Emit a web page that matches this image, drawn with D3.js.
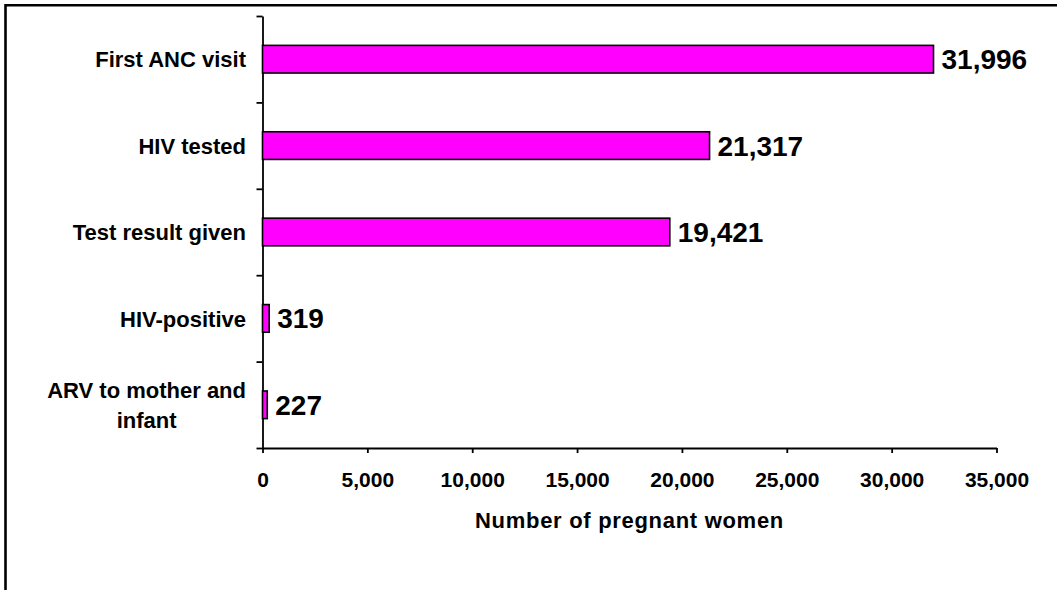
<!DOCTYPE html>
<html>
<head>
<meta charset="utf-8">
<script src="https://cdn.jsdelivr.net/npm/d3@7"></script>
<style>
  html, body { margin: 0; padding: 0; background: #fff; }
  svg { display: block; }
  text { font-family: "Liberation Sans", Arial, sans-serif; font-weight: bold; fill: #000; }
</style>
</head>
<body>
<svg id="chart" width="1062" height="590"></svg>
<script>
const categories = ["First ANC visit", "HIV tested", "Test result given", "HIV-positive", "ARV to mother and infant"];
const categoryLines = [["First ANC visit"], ["HIV tested"], ["Test result given"], ["HIV-positive"], ["ARV to mother and", "infant"]];
const values = [31996, 21317, 19421, 319, 227];
const xTicks = [0, 5000, 10000, 15000, 20000, 25000, 30000, 35000];
const xTitle = "Number of pregnant women";

(function () {
const svg = d3.select("#chart");
const W = 1062, H = 590;
const pLeft = 262.5, pRight = 996.5, pTop = 16, pBottom = 448;

// outer frame (only top and left edges visible in the reference)
svg.append("path")
  .attr("d", `M5.5,${H} L5.5,5.3 L1057,5.3`)
  .attr("fill", "none").attr("stroke", "#000").attr("stroke-width", 2.6);

const x = d3.scaleLinear().domain([0, 35000]).range([pLeft, pRight]);
const y = d3.scaleBand().domain(categories).range([pTop, pBottom]).paddingInner(0.68).paddingOuter(0.34);

// x axis
const xAxis = svg.append("g").attr("transform", `translate(0,${pBottom})`)
  .call(d3.axisBottom(x).tickValues(xTicks).tickSize(5).tickSizeOuter(0).tickPadding(19).tickFormat(d3.format(",")));
xAxis.select(".domain").attr("stroke-width", 1.8);
xAxis.selectAll(".tick line").attr("stroke-width", 1.8);
xAxis.selectAll("text").attr("font-size", 21).attr("font-family", "Liberation Sans, Arial, sans-serif").attr("font-weight", "bold");

// y axis (ticks at category boundaries)
const yb = d3.scaleLinear().domain([0, categories.length]).range([pBottom, pTop]);
const yAxis = svg.append("g").attr("transform", `translate(${pLeft},0)`)
  .call(d3.axisLeft(yb).ticks(categories.length).tickSize(6).tickSizeOuter(0).tickFormat(""));
yAxis.select(".domain").attr("stroke-width", 1.8);
yAxis.selectAll(".tick line").attr("stroke-width", 1.8);

// bars
svg.append("g").selectAll("rect").data(values).join("rect")
  .attr("x", x(0))
  .attr("y", (d, i) => y(categories[i]))
  .attr("width", d => x(d) - x(0))
  .attr("height", y.bandwidth())
  .attr("fill", "#FF00FF")
  .attr("stroke", "#000")
  .attr("stroke-width", 1.6);

// value labels
svg.append("g").selectAll("text").data(values).join("text")
  .attr("x", d => x(d) + 8)
  .attr("y", (d, i) => y(categories[i]) + y.bandwidth() / 2)
  .attr("dy", "0.36em")
  .attr("font-size", 28)
  .text(d => d3.format(",")(d));

// category labels
const labelRight = 246;
categoryLines.forEach((lines, i) => {
  const cy = y(categories[i]) + y.bandwidth() / 2;
  const lh = 30;
  const g = svg.append("g");
  const texts = lines.map((ln, j) => g.append("text")
    .attr("font-size", 22)
    .attr("y", cy + (j - (lines.length - 1) / 2) * lh)
    .attr("dy", "0.37em")
    .text(ln));
  const widths = texts.map(t => t.node().getComputedTextLength());
  const maxW = d3.max(widths);
  const cx = labelRight - maxW / 2;
  texts.forEach(t => t.attr("x", cx).attr("text-anchor", "middle"));
});

// x axis title
svg.append("text")
  .attr("x", (pLeft + pRight) / 2)
  .attr("y", 528)
  .attr("text-anchor", "middle")
  .attr("font-size", 22)
  .attr("letter-spacing", 0.7)
  .text(xTitle);
})();
</script>
</body>
</html>
